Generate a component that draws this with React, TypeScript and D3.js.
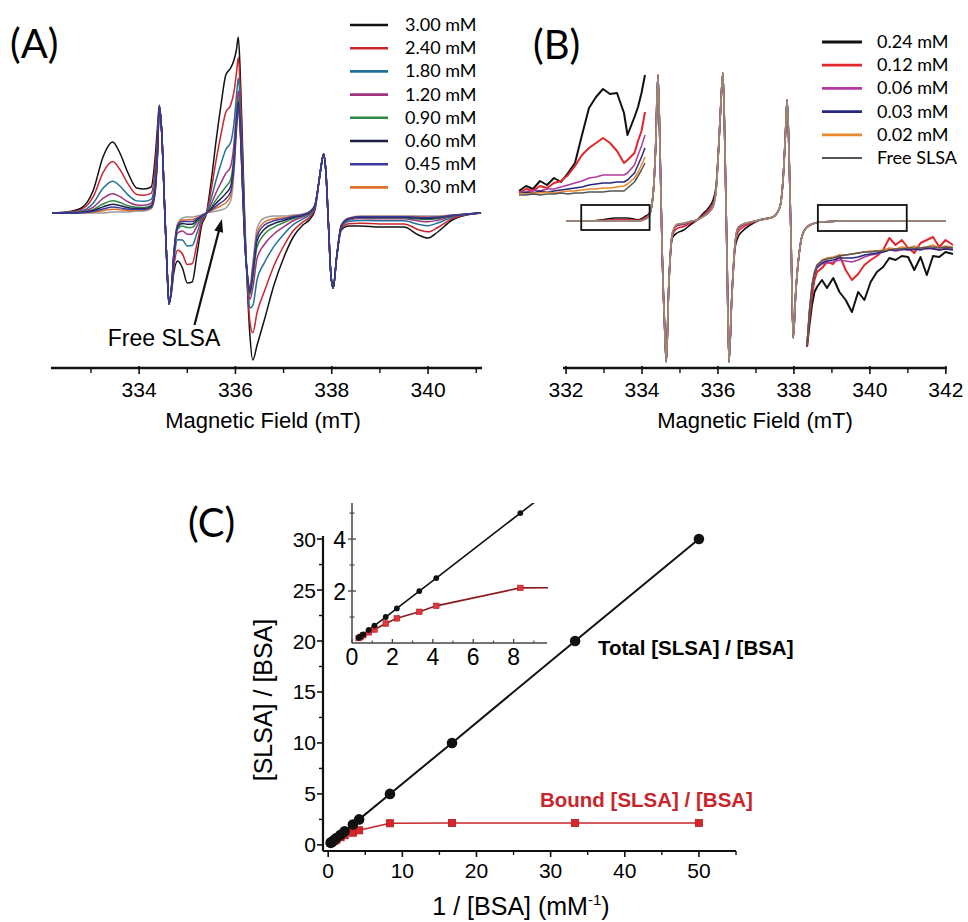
import React from "react";
import * as d3 from "d3";

// ---------- panel A : spectra at several [BSA] ----------
const fieldA = [332.2, 332.5, 332.8, 333.05, 333.25, 333.45, 333.6, 333.77, 333.95, 334.1,
  334.25, 334.33, 334.38, 334.42, 334.47, 334.53, 334.58, 334.62, 334.67, 334.72,
  334.8, 334.9, 335.0, 335.1, 335.2, 335.3, 335.4, 335.5, 335.6, 335.7,
  335.8, 335.9, 335.97, 336.02, 336.06, 336.1, 336.15, 336.2, 336.25, 336.3,
  336.36, 336.45, 336.6, 336.8, 337.0, 337.2, 337.4, 337.55, 337.65, 337.73,
  337.79, 337.83, 337.88, 337.93, 337.98, 338.03, 338.1, 338.2, 338.35, 338.6,
  339.0, 339.5, 339.8, 340.0, 340.2, 340.5, 340.8, 341.1];
// free SLSA (sharp triplet)
const freeA = [0, 0, 0, 0, 0, 0.01, 0.01, 0.01, 0.02, 0.02,
  0.04, 0.18, 0.55, 1.06, 0.8, 0.05, -0.55, -0.91, -0.75, -0.4,
  -0.1, -0.05, -0.04, -0.04, -0.03, -0.02, 0, 0.01, 0.02, 0.03,
  0.05, 0.12, 0.4, 0.8, 1.03, 0.8, 0.2, -0.35, -0.62, -0.74,
  -0.5, -0.15, -0.05, -0.03, -0.03, -0.02, -0.01, 0.02, 0.08, 0.3,
  0.5, 0.59, 0.4, -0.1, -0.6, -0.75, -0.45, -0.12, -0.05, -0.03,
  -0.03, -0.03, -0.03, -0.03, -0.03, -0.02, -0.01, 0];
// broad bound part
const boundA = [0, 0.01, 0.05, 0.23, 0.56, 0.7, 0.59, 0.39, 0.23, 0.22,
  0.22, 0.36, 0.3, 0.02, 0, 0, 0, 0, -0.05, -0.2,
  -0.38, -0.5, -0.66, -0.65, -0.39, -0.1, 0, 0.32, 0.71, 1.05,
  1.33, 1.33, 1.13, 0.83, 0.73, 0.6, 0.43, 0.18, -0.15, -0.48,
  -0.97, -1.17, -1.02, -0.69, -0.42, -0.22, -0.11, -0.08, -0.05, 0,
  0, 0, 0, 0, 0, 0, 0, -0.05, -0.08, -0.1,
  -0.11, -0.11, -0.19, -0.22, -0.16, -0.05, -0.01, 0];
const concA = ["3.00 mM", "2.40 mM", "1.80 mM", "1.20 mM", "0.90 mM", "0.60 mM", "0.45 mM", "0.30 mM"];
const ampA = [1, 0.72, 0.44, 0.26, 0.16, 0.11, 0.07, 0.04];
const colorsA = ["#111111", "#c8262c", "#22709a", "#a3307e", "#2e8b46", "#1e1f45", "#3a3aa0", "#e0702a"];
const majorA = [334, 336, 338, 340];
const minorA = [333, 335, 337, 339, 341];

// ---------- panel B ----------
const fieldB = [332.0, 332.6, 333.0, 333.3, 333.6, 333.9, 334.1, 334.2, 334.3, 334.36,
  334.42, 334.47, 334.53, 334.6, 334.64, 334.7, 334.8, 334.92, 335.1, 335.3,
  335.45, 335.6, 335.75, 335.87, 335.95, 336.02, 336.08, 336.13, 336.18, 336.24,
  336.29, 336.36, 336.45, 336.53, 336.65, 336.85, 337.1, 337.45, 337.63, 337.72,
  337.78, 337.82, 337.87, 337.93, 337.98, 338.05, 338.16, 338.24, 338.42, 338.7,
  339.5, 340.5, 341.3, 342.0];
const freeB = [0, 0, 0, 0, 0, 0, 0.02, 0.06, 0.3, 0.75,
  1.46, 0.8, -0.3, -1.1, -1.41, -0.7, -0.12, -0.03, -0.02, 0,
  0.01, 0.04, 0.08, 0.14, 0.3, 0.75, 1.2, 1.48, 0.8, -0.4,
  -1.41, -0.8, -0.22, -0.06, -0.03, -0.01, 0.01, 0.04, 0.14, 0.45,
  0.9, 1.21, 0.7, -0.3, -1.17, -0.7, -0.26, -0.12, -0.04, -0.01,
  0, 0, 0, 0];
const boundB = [0, 0, 0.015, 0.03, 0.03, 0.012, 0.03, 0.02, 0, 0,
  0, 0, 0, 0, 0, 0, -0.05, -0.09, -0.07, -0.03,
  0, 0.03, 0.05, 0.07, 0.05, 0, 0, 0, 0, 0,
  0, 0, -0.05, -0.1, -0.07, -0.03, 0, 0, 0, 0,
  0, 0, 0, 0, 0, 0, 0, 0, 0, 0,
  0, 0, 0, 0];
const concB = ["0.24 mM", "0.12 mM", "0.06 mM", "0.03 mM", "0.02 mM", "Free SLSA"];
const ampB = [1, 0.5, 0.2, 0.1, 0.05, 0];
const colorsB = ["#111111", "#e3262b", "#b23aa0", "#27277d", "#e8892f", "#555555"];
const majorB = [332, 334, 336, 338, 340, 342];
const minorB = [333, 335, 337, 339, 341];

// magnified low-field box (332.4 - 334.2 mT)
const insetLField = [332.4, 332.5, 332.6, 332.7, 332.8, 332.9, 333.0, 333.1, 333.2, 333.3,
  333.4, 333.5, 333.6, 333.7, 333.8, 333.9, 333.95, 334.05, 334.1, 334.15, 334.2];
const insetL = [
  [0.02, 0.07, 0.04, 0.12, 0.08, 0.15, 0.11, 0.2, 0.3, 0.58, 0.85, 0.96, 1.04, 0.99, 1.0, 0.8, 0.58, 0.76, 0.86, 1.0, 1.18],
  [0, 0.04, 0.02, 0.07, 0.05, 0.1, 0.12, 0.18, 0.27, 0.38, 0.45, 0.5, 0.55, 0.5, 0.42, 0.3, 0.33, 0.4, 0.52, 0.62, 0.81],
  [0.01, 0, 0.03, 0.02, 0.04, 0.04, 0.06, 0.08, 0.1, 0.12, 0.15, 0.16, 0.18, 0.18, 0.18, 0.18, 0.2, 0.28, 0.38, 0.47, 0.58],
  [0, 0.01, 0, 0.02, 0.01, 0.02, 0.03, 0.04, 0.05, 0.06, 0.08, 0.09, 0.1, 0.1, 0.11, 0.11, 0.13, 0.2, 0.28, 0.36, 0.45],
  [0, -0.01, 0, 0, 0.01, 0, 0.01, 0.02, 0.02, 0.03, 0.04, 0.04, 0.05, 0.05, 0.06, 0.07, 0.09, 0.15, 0.21, 0.28, 0.36],
  [-0.02, -0.02, -0.01, -0.02, -0.01, -0.01, 0, -0.01, 0, 0, 0.01, 0.01, 0.01, 0.02, 0.02, 0.02, 0.05, 0.11, 0.17, 0.23, 0.3],
];
// magnified high-field box (338.63 - 340.97 mT)
const insetRField = [338.63, 338.67, 338.71, 338.75, 338.79, 338.87, 338.95, 339.05, 339.15, 339.25,
  339.35, 339.45, 339.55, 339.65, 339.75, 339.85, 339.95, 340.05, 340.15, 340.25,
  340.35, 340.45, 340.55, 340.65, 340.75, 340.85, 340.97];
const insetR = [
  [-0.97, -0.75, -0.55, -0.42, -0.37, -0.3, -0.38, -0.28, -0.42, -0.5, -0.62, -0.42, -0.5, -0.32, -0.22, -0.17, -0.08, -0.1, -0.06, -0.07, -0.2, -0.07, -0.25, -0.06, -0.07, -0.02, -0.04],
  [-0.97, -0.68, -0.45, -0.3, -0.22, -0.18, -0.12, -0.14, -0.05, -0.2, -0.3, -0.24, -0.15, -0.1, -0.06, 0, 0.12, 0.05, 0.1, 0.02, -0.03, 0.07, 0.1, 0.13, 0.03, 0.1, 0.05],
  [-0.96, -0.62, -0.38, -0.25, -0.18, -0.14, -0.13, -0.12, -0.1, -0.11, -0.12, -0.1, -0.07, -0.05, -0.04, -0.02, 0, -0.01, 0, 0.01, 0, 0.02, 0.01, 0.02, 0, 0.02, 0.01],
  [-0.96, -0.61, -0.37, -0.24, -0.17, -0.13, -0.11, -0.1, -0.08, -0.08, -0.08, -0.07, -0.05, -0.04, -0.03, -0.02, 0, 0, 0.01, 0, 0.01, 0, 0.02, 0.01, 0, 0.01, 0],
  [-0.95, -0.6, -0.35, -0.22, -0.15, -0.1, -0.08, -0.07, -0.05, -0.05, -0.04, -0.03, -0.02, -0.01, -0.01, 0, 0.02, 0.01, 0.03, 0.02, 0.04, 0.02, 0.03, 0.05, 0.02, 0.04, 0.03],
  [-0.95, -0.6, -0.35, -0.22, -0.15, -0.11, -0.09, -0.08, -0.06, -0.05, -0.04, -0.03, -0.02, -0.02, -0.01, -0.01, 0, 0.01, 0.01, 0.02, 0.02, 0.02, 0.03, 0.03, 0.02, 0.03, 0.02],
];

// ---------- panel C ----------
const invBSA = [0.33, 0.42, 0.56, 0.83, 1.11, 1.67, 2.22, 3.33, 4.17, 8.33, 16.7, 33.3, 50];
const totalRatio = [0.2, 0.25, 0.33, 0.5, 0.67, 1.0, 1.33, 2.0, 2.5, 5.0, 10, 20, 30];
const boundRatio = [0.19, 0.23, 0.3, 0.41, 0.52, 0.75, 0.95, 1.2, 1.43, 2.12, 2.15, 2.15, 2.15];
const majorCx = [0, 10, 20, 30, 40, 50];
const minorCx = [5, 15, 25, 35, 45, 55];
const majorCy = [0, 5, 10, 15, 20, 25, 30];
const minorCy = [2.5, 7.5, 12.5, 17.5, 22.5, 27.5];
const insetMajorX = [0, 2, 4, 6, 8];
const insetMinorX = [1, 3, 5, 7, 9];
const insetMajorY = [2, 4];
const insetMinorY = [1, 3, 5];

const SANS = "'Liberation Sans', Arial, sans-serif";
const LATO = "Lato, 'Open Sans', sans-serif";

type Pt = [number, number];
const mix = (fields: number[], free: number[], bound: number[], amp: number): Pt[] =>
  fields.map((f, k) => [f, free[k] + amp * bound[k]]);

const FieldAxis = ({ scale, y, major, minor }: any) => {
  const [r0, r1] = scale.range();
  return (
    <g>
      <line x1={r0} x2={r1} y1={y} y2={y} stroke="#111" strokeWidth={2.6} />
      {major.map((v: number) => (
        <g key={"M" + v}>
          <line x1={scale(v)} x2={scale(v)} y1={y - 2} y2={y + 6} stroke="#111" strokeWidth={1.6} />
          <text x={scale(v)} y={y + 29} textAnchor="middle" fontSize={21} fontFamily={SANS}>{v}</text>
        </g>
      ))}
      {minor.map((v: number) => (
        <line key={"m" + v} x1={scale(v)} x2={scale(v)} y1={y} y2={y + 5} stroke="#111" strokeWidth={1.4} />
      ))}
    </g>
  );
};

export default function App() {
  // panel A scales
  const xA = d3.scaleLinear().domain([332.17, 341.12]).range([51, 482]);
  const yA = d3.scaleLinear().domain([0, 1]).range([213, 113]);
  const lineA = d3.line<Pt>().x(d => xA(d[0])).y(d => yA(d[1])).curve(d3.curveMonotoneX);

  // panel B scales
  const xB = d3.scaleLinear().domain([331.92, 342.03]).range([563, 947]);
  const yB = d3.scaleLinear().domain([0, 1]).range([221, 121]);
  const lineB = d3.line<Pt>().x(d => xB(d[0])).y(d => yB(d[1])).curve(d3.curveMonotoneX);
  const xBL = d3.scaleLinear().domain([332.4, 334.2]).range([519, 645]);
  const yBL = d3.scaleLinear().domain([0, 1]).range([193, 93]);
  const lineBL = d3.line<Pt>().x(d => xBL(d[0])).y(d => yBL(d[1]));
  const xBR = d3.scaleLinear().domain([338.63, 340.97]).range([807, 953]);
  const yBR = d3.scaleLinear().domain([0, 1]).range([250, 150]);
  const lineBR = d3.line<Pt>().x(d => xBR(d[0])).y(d => yBR(d[1]));

  // panel C scales
  const xC = d3.scaleLinear().domain([-0.7, 55]).range([323, 736]);
  const yC = d3.scaleLinear().domain([-0.6, 30.3]).range([851, 536]);
  const xI = d3.scaleLinear().domain([0, 9.65]).range([352, 547]);
  const yI = d3.scaleLinear().domain([0, 5.35]).range([643, 504]);
  const totalPts: Pt[] = invBSA.map((v, i) => [v, totalRatio[i]]);
  const boundPts: Pt[] = invBSA.map((v, i) => [v, boundRatio[i]]);
  const lineC = d3.line<Pt>().x(d => xC(d[0])).y(d => yC(d[1]));
  const lineI = d3.line<Pt>().x(d => xI(d[0])).y(d => yI(d[1]));

  // draw order for A: lowest on bottom, purple on top
  const orderA = [7, 0, 1, 2, 3, 4, 5, 6];

  // arrow to free SLSA
  const tip = [xA(335.72), yA(-0.06)];
  const tail = [xA(335.15), yA(-1.12)];
  const dx = tip[0] - tail[0], dy = tip[1] - tail[1];
  const len = Math.hypot(dx, dy);
  const ux = dx / len, uy = dy / len;
  const head = [
    [tip[0], tip[1]],
    [tip[0] - ux * 13 - uy * 4.5, tip[1] - uy * 13 + ux * 4.5],
    [tip[0] - ux * 13 + uy * 4.5, tip[1] - uy * 13 - ux * 4.5],
  ];

  return (
    <svg width={968} height={922} style={{ position: "absolute", left: 0, top: 0, background: "#fff" }}>
      <rect width={968} height={922} fill="#fff" />
      {/* ===== Panel A ===== */}
      <text x={10} y={58} fontSize={40} fontFamily={LATO}>(A)</text>
      <path d={lineA(mix(fieldA, freeA, boundA, 0)) || ""} fill="none" stroke="#9a9a9a" strokeWidth={1.4} />
      {orderA.map(i => (
        <path key={i} d={lineA(mix(fieldA, freeA, boundA, ampA[i])) || ""} fill="none"
          stroke={colorsA[i]} strokeWidth={1.5} strokeLinejoin="round" />
      ))}
      {concA.map((c, i) => (
        <g key={c}>
          <line x1={350} x2={388} y1={25 + i * 23.2} y2={25 + i * 23.2} stroke={colorsA[i]} strokeWidth={2.6} />
          <text x={405} y={25 + i * 23.2 + 6} fontSize={18} fontFamily={LATO}>{c}</text>
        </g>
      ))}
      <line x1={tail[0]} y1={tail[1]} x2={tip[0] - ux * 10} y2={tip[1] - uy * 10} stroke="#111" strokeWidth={2.2} />
      <polygon points={head.map(p => p.join(",")).join(" ")} fill="#111" />
      <text x={164} y={346} textAnchor="middle" fontSize={23} fontFamily={SANS}>Free SLSA</text>
      <FieldAxis scale={xA} y={368} major={majorA} minor={minorA} />
      <text x={263} y={428} textAnchor="middle" fontSize={22} fontFamily={SANS}>Magnetic Field (mT)</text>

      {/* ===== Panel B ===== */}
      <text x={533} y={59} fontSize={40} fontFamily={LATO}>(B)</text>
      {concB.map((c, i) => (
        <path key={c} d={lineB(mix(fieldB, freeB, boundB, ampB[i])) || ""} fill="none"
          stroke={i === 5 ? "#8a8a8a" : colorsB[i]} strokeWidth={i === 5 ? 1.3 : 1.6} strokeLinejoin="round" />
      ))}
      {insetL.map((vals, i) => (
        <path key={"L" + i} d={lineBL(insetLField.map((f, k) => [f, vals[k]] as Pt)) || ""} fill="none"
          stroke={colorsB[i]} strokeWidth={i < 2 ? 2 : 1.5} strokeLinejoin="round" />
      ))}
      {insetR.map((vals, i) => (
        <path key={"R" + i} d={lineBR(insetRField.map((f, k) => [f, vals[k]] as Pt)) || ""} fill="none"
          stroke={colorsB[i]} strokeWidth={i < 2 ? 2 : 1.5} strokeLinejoin="round" />
      ))}
      <rect x={xB(332.4)} y={yB(0.16)} width={xB(334.2) - xB(332.4)} height={yB(-0.09) - yB(0.16)}
        fill="none" stroke="#111" strokeWidth={1.8} />
      <rect x={xB(338.63)} y={yB(0.16)} width={xB(340.97) - xB(338.63)} height={yB(-0.1) - yB(0.16)}
        fill="none" stroke="#111" strokeWidth={1.8} />
      {concB.map((c, i) => (
        <g key={"lg" + c}>
          <line x1={822} x2={862} y1={42 + i * 23.2} y2={42 + i * 23.2} stroke={colorsB[i]} strokeWidth={i === 5 ? 1.8 : 2.8} />
          <text x={877} y={42 + i * 23.2 + 6} fontSize={18} fontFamily={LATO}>{c}</text>
        </g>
      ))}
      <FieldAxis scale={xB} y={368} major={majorB} minor={minorB} />
      <text x={755} y={428} textAnchor="middle" fontSize={22} fontFamily={SANS}>Magnetic Field (mT)</text>

      {/* ===== Panel C ===== */}
      <text x={188} y={537} fontSize={40} fontFamily={LATO}>(C)</text>
      {/* main axes */}
      <line x1={323} x2={736} y1={851} y2={851} stroke="#111" strokeWidth={2.2} />
      <line x1={323} x2={323} y1={536} y2={851} stroke="#111" strokeWidth={2.2} />
      {majorCx.map(v => (
        <g key={"cx" + v}>
          <line x1={xC(v)} x2={xC(v)} y1={851} y2={857} stroke="#111" strokeWidth={1.6} />
          <text x={xC(v)} y={878} textAnchor="middle" fontSize={21} fontFamily={SANS}>{v}</text>
        </g>
      ))}
      {minorCx.map(v => (
        <line key={"cxm" + v} x1={xC(v)} x2={xC(v)} y1={851} y2={855} stroke="#111" strokeWidth={1.4} />
      ))}
      {majorCy.map(v => (
        <g key={"cy" + v}>
          <line x1={317} x2={323} y1={yC(v)} y2={yC(v)} stroke="#111" strokeWidth={1.6} />
          <text x={316} y={yC(v) + 7.5} textAnchor="end" fontSize={21} fontFamily={SANS}>{v}</text>
        </g>
      ))}
      {minorCy.map(v => (
        <line key={"cym" + v} x1={319} x2={323} y1={yC(v)} y2={yC(v)} stroke="#111" strokeWidth={1.4} />
      ))}
      <path d={lineC(totalPts) || ""} fill="none" stroke="#111" strokeWidth={2} />
      <path d={lineC(boundPts) || ""} fill="none" stroke="#c8262c" strokeWidth={1.6} />
      {boundPts.map((d, i) => (
        <rect key={"bs" + i} x={xC(d[0]) - 3.6} y={yC(d[1]) - 3.6} width={7.2} height={7.2} fill="#d6262c" stroke="#b01e24" strokeWidth={0.8} />
      ))}
      {totalPts.map((d, i) => (
        <circle key={"tc" + i} cx={xC(d[0])} cy={yC(d[1])} r={5.3} fill="#111" />
      ))}
      <text x={598} y={655} fontSize={20.5} fontWeight="bold" fontFamily={SANS}>Total [SLSA] / [BSA]</text>
      <text x={540} y={807} fontSize={20.5} fontWeight="bold" fontFamily={SANS} fill="#c8262c">Bound [SLSA] / [BSA]</text>
      <text transform="translate(272,700) rotate(-90)" textAnchor="middle" fontSize={25} fontFamily={SANS}>[SLSA] / [BSA]</text>
      <text x={521} y={915} textAnchor="middle" fontSize={25} fontFamily={SANS}>
        1 / [BSA] (mM<tspan fontSize={15} dy={-10}>-1</tspan><tspan dy={10}>)</tspan>
      </text>

      {/* inset */}
      <defs>
        <clipPath id="insetClip">
          <rect x={352} y={503} width={196} height={141} />
        </clipPath>
      </defs>
      <rect x={352} y={503} width={196} height={141} fill="#fff" />
      <line x1={352} x2={547} y1={643} y2={643} stroke="#444" strokeWidth={1.5} />
      <line x1={352} x2={352} y1={503} y2={643} stroke="#444" strokeWidth={1.5} />
      {insetMajorX.map(v => (
        <g key={"ix" + v}>
          <line x1={xI(v)} x2={xI(v)} y1={643} y2={639} stroke="#444" strokeWidth={1.3} />
          <text x={xI(v)} y={665} textAnchor="middle" fontSize={23} fontFamily={SANS}>{v}</text>
        </g>
      ))}
      {insetMinorX.map(v => (
        <line key={"ixm" + v} x1={xI(v)} x2={xI(v)} y1={643} y2={640.5} stroke="#444" strokeWidth={1.1} />
      ))}
      {insetMajorY.map(v => (
        <g key={"iy" + v}>
          <line x1={348} x2={356} y1={yI(v)} y2={yI(v)} stroke="#444" strokeWidth={1.3} />
          <text x={346} y={yI(v) + 8.5} textAnchor="end" fontSize={23} fontFamily={SANS}>{v}</text>
        </g>
      ))}
      {insetMinorY.map(v => (
        <line key={"iym" + v} x1={349.5} x2={354.5} y1={yI(v)} y2={yI(v)} stroke="#444" strokeWidth={1.1} />
      ))}
      <g clipPath="url(#insetClip)">
        <path d={lineI(totalPts) || ""} fill="none" stroke="#111" strokeWidth={1.6} />
        <path d={lineI(boundPts) || ""} fill="none" stroke="#8a1a1e" strokeWidth={1.6} />
        {boundPts.map((d, i) => (
          <rect key={"ibs" + i} x={xI(d[0]) - 2.8} y={yI(d[1]) - 2.8} width={5.6} height={5.6} fill="#e0363c" stroke="#b01e24" strokeWidth={0.6} />
        ))}
        {totalPts.map((d, i) => (
          <circle key={"itc" + i} cx={xI(d[0])} cy={yI(d[1])} r={2.9} fill="#111" />
        ))}
      </g>
    </svg>
  );
}
